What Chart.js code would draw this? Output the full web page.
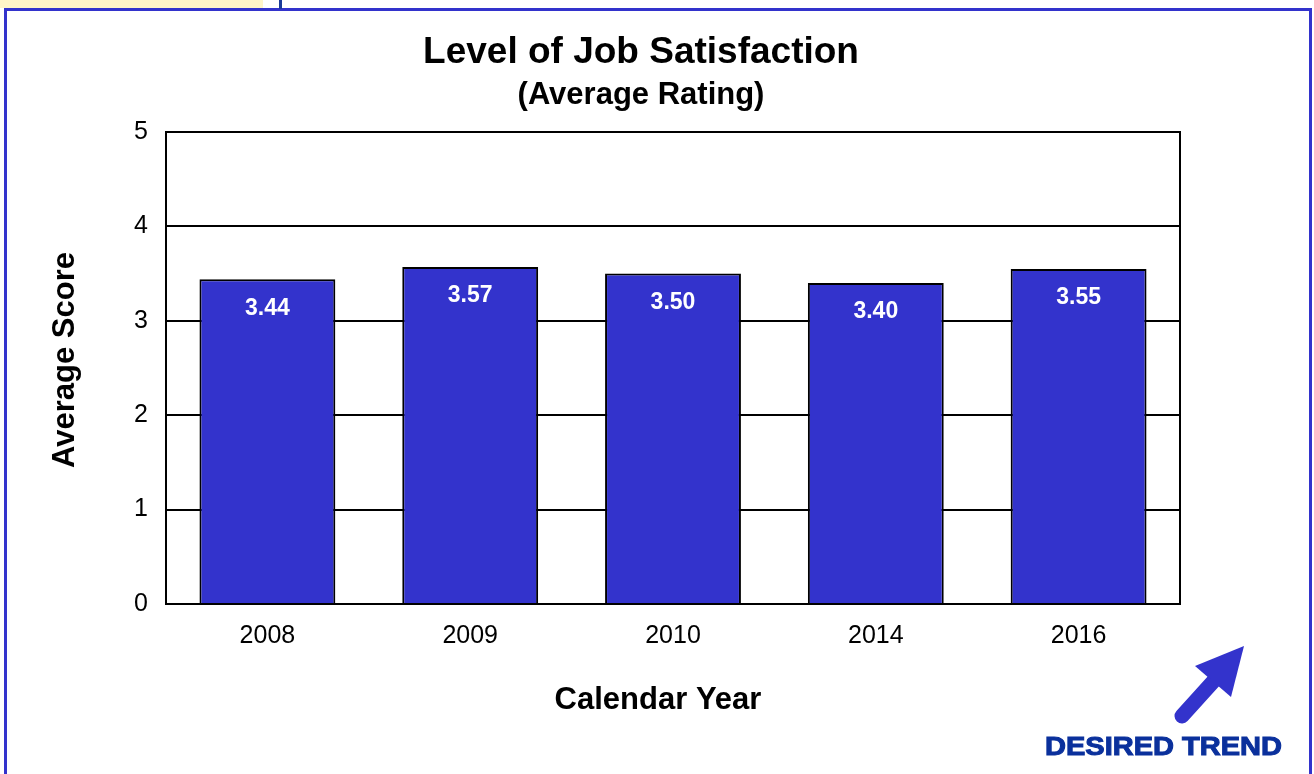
<!DOCTYPE html>
<html>
<head>
<meta charset="utf-8">
<script src="https://cdn.jsdelivr.net/npm/chart.js@4"></script>
<style>
  body { margin: 0; background: #fff; }
  #wrap { width: 1314px; height: 774px; position: relative; }
</style>
</head>
<body>
<div id="wrap"><canvas id="chart" width="1314" height="774"></canvas></div>
<script>
const years = ['2008', '2009', '2010', '2014', '2016'];
const scores = [3.44, 3.57, 3.50, 3.40, 3.55];
const scoreLabels = ['3.44', '3.57', '3.50', '3.40', '3.55'];

const FONT = '"Liberation Sans", Arial, Helvetica, sans-serif';
const BLUE = '#3333cc';

// etiquettes blanches dans les barres
const barLabels = {
    id: 'barLabels',
    afterDatasetsDraw(chart) {
        const ctx = chart.ctx;
        const meta = chart.getDatasetMeta(0);
        ctx.save();
        ctx.fillStyle = '#fff';
        ctx.font = 'bold 23px ' + FONT;
        ctx.textAlign = 'center';
        ctx.textBaseline = 'middle';
        meta.data.forEach((bar, i) => {
            ctx.fillText(scoreLabels[i], bar.x, bar.y + 29);
        });
        ctx.restore();
    }
};

// cadre, titres et flèche "desired trend"
const decor = {
    id: 'decor',
    beforeDraw(chart) {
        const ctx = chart.ctx;
        ctx.save();
        ctx.fillStyle = '#fff';
        ctx.fillRect(0, 0, chart.width, chart.height);
        ctx.fillStyle = '#fff5c8';
        ctx.fillRect(0, 0, 263, 8);
        ctx.restore();
    },
    afterDraw(chart) {
        const ctx = chart.ctx;
        const a = chart.chartArea;
        ctx.save();
        // bord de la zone de tracé
        ctx.strokeStyle = '#000';
        ctx.lineWidth = 2;
        ctx.strokeRect(a.left, a.top, a.right - a.left, a.bottom - a.top);

        // titres
        ctx.fillStyle = '#000';
        ctx.textAlign = 'center';
        ctx.textBaseline = 'middle';
        ctx.font = 'bold 37px ' + FONT;
        ctx.fillText('Level of Job Satisfaction', 641, 53);
        ctx.font = 'bold 31px ' + FONT;
        ctx.fillText('(Average Rating)', 641, 95);
        ctx.fillText('Calendar Year', 658, 700);
        ctx.save();
        ctx.translate(65, 360);
        ctx.rotate(-Math.PI / 2);
        ctx.fillText('Average Score', 0, 0);
        ctx.restore();

        // cadre bleu
        ctx.strokeStyle = BLUE;
        ctx.lineWidth = 3;
        ctx.beginPath();
        ctx.moveTo(5.5, 780);
        ctx.lineTo(5.5, 9.5);
        ctx.lineTo(1310.5, 9.5);
        ctx.lineTo(1310.5, 780);
        ctx.stroke();

        ctx.strokeStyle = '#1a3a99';
        ctx.lineWidth = 3;
        ctx.beginPath();
        ctx.moveTo(280.5, 0);
        ctx.lineTo(280.5, 9);
        ctx.stroke();

        // flèche
        ctx.strokeStyle = BLUE;
        ctx.fillStyle = BLUE;
        ctx.lineWidth = 15;
        ctx.lineCap = 'round';
        ctx.beginPath();
        ctx.moveTo(1182, 716);
        ctx.lineTo(1220, 674);
        ctx.stroke();
        ctx.beginPath();
        ctx.moveTo(1244, 646);
        ctx.lineTo(1195, 666);
        ctx.lineTo(1231, 697);
        ctx.closePath();
        ctx.fill();

        // texte élargi pour ressembler à une police très grasse
        ctx.fillStyle = '#0a309c';
        ctx.font = 'bold 26px ' + FONT;
        ctx.textAlign = 'left';
        const w = ctx.measureText('DESIRED TREND').width;
        ctx.translate(1045, 748);
        ctx.scale(237 / w, 1);
        ctx.lineWidth = 1;
        ctx.strokeStyle = '#0a309c';
        ctx.lineCap = 'butt';
        ctx.strokeText('DESIRED TREND', 0, 0);
        ctx.fillText('DESIRED TREND', 0, 0);
        ctx.restore();
    }
};

const ctx = document.getElementById('chart').getContext('2d');
const chart = new Chart(ctx, {
    type: 'bar',
    data: {
        labels: years,
        datasets: [{
            data: scores,
            backgroundColor: BLUE,
            borderColor: '#000',
            borderWidth: 2,
            categoryPercentage: 0.67,
            barPercentage: 1.0
        }]
    },
    options: {
        responsive: false,
        animation: false,
        events: [],
        layout: {
            padding: { top: 132, left: 48, right: 134, bottom: 0 }
        },
        plugins: {
            legend: { display: false },
            tooltip: { enabled: false },
            title: { display: false }
        },
        scales: {
            x: {
                grid: { display: false },
                border: { display: false },
                afterFit(scale) { scale.height = 170; },
                ticks: {
                    color: '#000',
                    font: { family: FONT, size: 25 },
                    padding: 9
                }
            },
            y: {
                min: 0,
                max: 5,
                afterFit(scale) { scale.width = 118; },
                grid: {
                    color: '#000',
                    lineWidth: 2,
                    drawTicks: false
                },
                border: { display: false },
                ticks: {
                    stepSize: 1,
                    color: '#000',
                    font: { family: FONT, size: 25 },
                    padding: 18
                }
            }
        }
    },
    plugins: [decor, barLabels]
});
</script>
</body>
</html>
